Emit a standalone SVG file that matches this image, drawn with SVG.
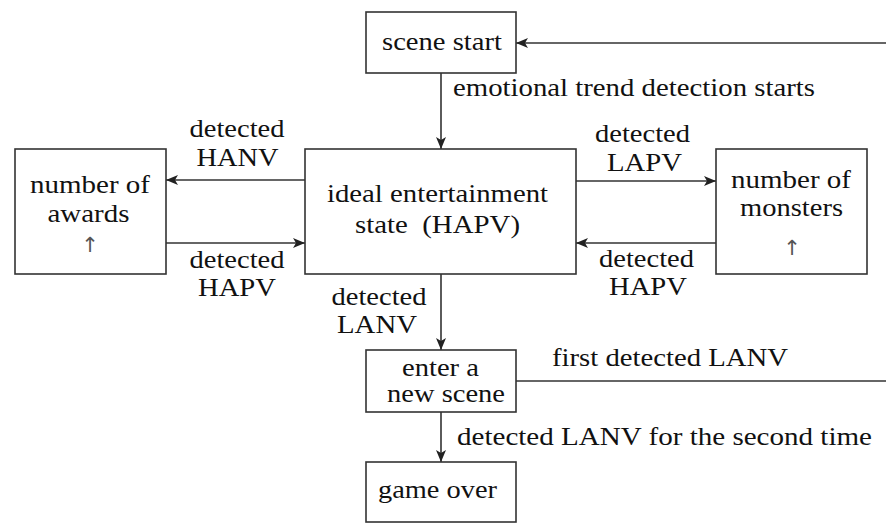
<svg xmlns="http://www.w3.org/2000/svg" width="886" height="525" viewBox="0 0 886 525">
  <style>
    .box { fill: #ffffff; stroke: #333333; stroke-width: 1.6; }
    .edge { fill: none; stroke: #333333; stroke-width: 1.6; }
    .t { font-family: 'Liberation Serif', 'Times New Roman', serif; font-size: 26px; fill: #111111; }
    .c { text-anchor: middle; }
    .up { font-family: 'DejaVu Sans', sans-serif; font-size: 21px; fill: #555555; text-anchor: middle; }
  </style>
  <defs>
    <marker id="arrow" viewBox="0 0 12 10" refX="12" refY="5" markerWidth="12" markerHeight="10" markerUnits="userSpaceOnUse" orient="auto">
      <path d="M0,0 L12,5 L0,10 L3,5 z" fill="#222222"/>
    </marker>
  </defs>

  <rect width="886" height="525" fill="#ffffff"/>

  <!-- connectors -->
  <g id="connectors">
    <!-- loop back into scene start from the right -->
    <line class="edge" x1="886" y1="43" x2="516" y2="43" marker-end="url(#arrow)"/>
    <!-- scene start to ideal state -->
    <line class="edge" x1="441" y1="73" x2="441" y2="149" marker-end="url(#arrow)"/>
    <!-- ideal state to awards / back -->
    <line class="edge" x1="305" y1="180" x2="166" y2="180" marker-end="url(#arrow)"/>
    <line class="edge" x1="166" y1="243" x2="305" y2="243" marker-end="url(#arrow)"/>
    <!-- ideal state to monsters / back -->
    <line class="edge" x1="576" y1="181" x2="716" y2="181" marker-end="url(#arrow)"/>
    <line class="edge" x1="716" y1="243" x2="576" y2="243" marker-end="url(#arrow)"/>
    <!-- ideal state to new scene -->
    <line class="edge" x1="441" y1="274" x2="441" y2="350" marker-end="url(#arrow)"/>
    <!-- new scene back to the loop on the right -->
    <line class="edge" x1="516" y1="381" x2="886" y2="381"/>
    <!-- new scene to game over -->
    <line class="edge" x1="441" y1="412" x2="441" y2="462" marker-end="url(#arrow)"/>

    <!-- connector labels (glyphs widened a little with textLength) -->
    <text class="t" x="453" y="96" textLength="362" lengthAdjust="spacingAndGlyphs">emotional trend detection starts</text>
    <text class="t c" x="237" y="137" textLength="95" lengthAdjust="spacingAndGlyphs">detected</text>
    <text class="t c" x="237.5" y="166" textLength="82" lengthAdjust="spacingAndGlyphs">HANV</text>
    <text class="t c" x="237" y="268" textLength="95" lengthAdjust="spacingAndGlyphs">detected</text>
    <text class="t c" x="237" y="296" textLength="78" lengthAdjust="spacingAndGlyphs">HAPV</text>
    <text class="t c" x="642.5" y="142" textLength="95" lengthAdjust="spacingAndGlyphs">detected</text>
    <text class="t c" x="644.5" y="171" textLength="75" lengthAdjust="spacingAndGlyphs">LAPV</text>
    <text class="t c" x="646.5" y="267" textLength="95" lengthAdjust="spacingAndGlyphs">detected</text>
    <text class="t c" x="648" y="295" textLength="78" lengthAdjust="spacingAndGlyphs">HAPV</text>
    <text class="t c" x="379" y="305" textLength="95" lengthAdjust="spacingAndGlyphs">detected</text>
    <text class="t c" x="377" y="333" textLength="80" lengthAdjust="spacingAndGlyphs">LANV</text>
    <text class="t" x="552" y="366" textLength="236" lengthAdjust="spacingAndGlyphs">first detected LANV</text>
    <text class="t" x="457" y="445" textLength="415" lengthAdjust="spacingAndGlyphs">detected LANV for the second time</text>
  </g>

  <g id="scene-start">
    <rect class="box" x="366" y="12" width="150" height="61"/>
    <text class="t c" x="442" y="50" textLength="120" lengthAdjust="spacingAndGlyphs">scene start</text>
  </g>

  <g id="ideal-state">
    <rect class="box" x="305" y="149" width="271" height="125"/>
    <text class="t c" x="437.5" y="202" textLength="221" lengthAdjust="spacingAndGlyphs">ideal entertainment</text>
    <text class="t c" x="437.5" y="233" textLength="165" lengthAdjust="spacingAndGlyphs" xml:space="preserve">state  (HAPV)</text>
  </g>

  <g id="awards">
    <rect class="box" x="15" y="149" width="151" height="125"/>
    <text class="t c" x="90" y="193" textLength="120" lengthAdjust="spacingAndGlyphs">number of</text>
    <text class="t c" x="88.5" y="222" textLength="82" lengthAdjust="spacingAndGlyphs">awards</text>
    <text class="up" x="90" y="252">↑</text>
  </g>

  <g id="monsters">
    <rect class="box" x="716" y="149" width="151" height="125"/>
    <text class="t c" x="791" y="188" textLength="120" lengthAdjust="spacingAndGlyphs">number of</text>
    <text class="t c" x="791.5" y="216" textLength="103" lengthAdjust="spacingAndGlyphs">monsters</text>
    <text class="up" x="792" y="255">↑</text>
  </g>

  <g id="new-scene">
    <rect class="box" x="366" y="350" width="150" height="62"/>
    <text class="t c" x="440.5" y="376" textLength="77" lengthAdjust="spacingAndGlyphs">enter a</text>
    <text class="t c" x="446" y="402" textLength="118" lengthAdjust="spacingAndGlyphs">new scene</text>
  </g>

  <g id="game-over">
    <rect class="box" x="366" y="462" width="150" height="60"/>
    <text class="t c" x="437.5" y="498" textLength="119" lengthAdjust="spacingAndGlyphs">game over</text>
  </g>
</svg>
